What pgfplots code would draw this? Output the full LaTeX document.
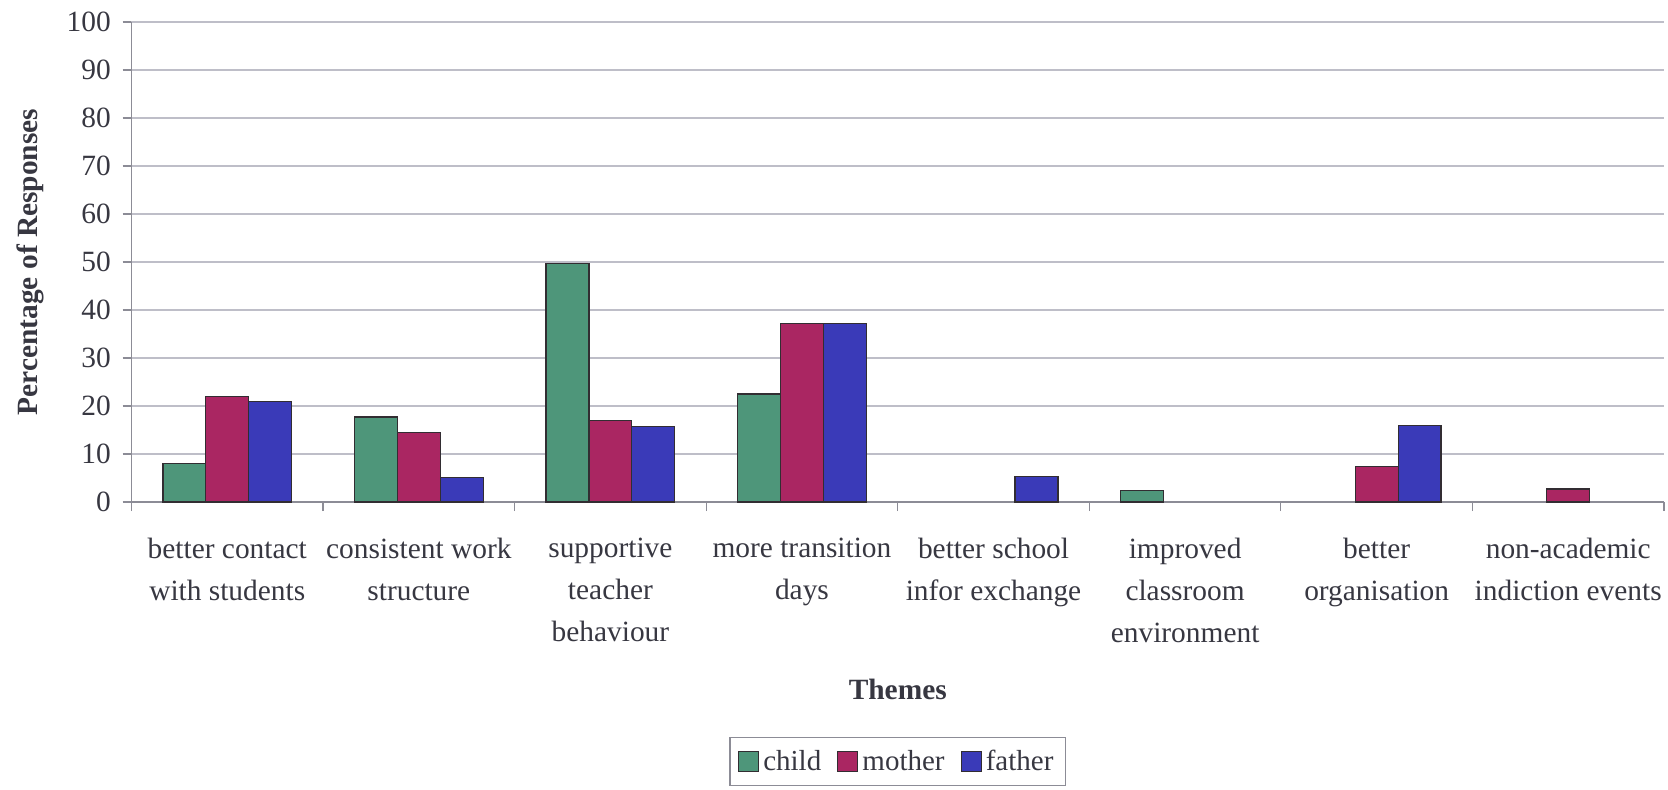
\documentclass[border=0pt]{standalone}
\usepackage{fontspec}
\setmainfont{Liberation Serif}
\usepackage{pgfplots}
\pgfplotsset{compat=1.18}
\definecolor{cchild}{RGB}{78,150,122}
\definecolor{cmother}{RGB}{170,38,98}
\definecolor{cfather}{RGB}{58,58,184}
\definecolor{txt}{RGB}{55,55,65}
\definecolor{gridc}{RGB}{190,190,200}
\definecolor{axc}{RGB}{140,140,150}
\definecolor{barline}{RGB}{50,45,50}
\begin{document}
\begin{tikzpicture}
\path[use as bounding box] (-65.75pt,-143.5pt) rectangle (768.25pt,251pt);
\begin{axis}[
  at={(0,0)}, anchor=south west,
  scale only axis, width=766.25pt, height=240pt,
  xmin=-0.5, xmax=7.5, ymin=0, ymax=100,
  axis x line*=bottom, axis y line*=left,
  axis line style={axc, line width=0.6pt},
  tick align=outside,
  tick style={axc, line width=0.6pt},
  major tick length=4.5pt,
  ytick={0,10,...,100},
  ymajorgrids, grid style={gridc, line width=0.6pt},
  xtick={-0.5,0.5,...,7.5},
  xticklabels={{},{},{},{},{},{},{},{},{}},
  extra x ticks={0,1,2,3,4,5,6,7},
  extra x tick labels={{better contact\\with students},{consistent work\\structure},{supportive\\teacher\\behaviour},{more transition\\days},{better school\\infor exchange},{improved\\classroom\\environment},{better\\organisation},{non-academic\\indiction events}},
  extra x tick style={major tick length=0pt, grid=none, tick style={draw=none},
     xticklabel style={align=center, anchor=north, yshift=-14.6pt, text=txt, font=\fontsize{14.7}{21}\selectfont}},
  yticklabel style={text=txt, font=\fontsize{14.7}{17}\selectfont, xshift=-2.3pt},
  /pgf/number format/assume math mode=true,
  xlabel={Themes},
  xlabel style={at={(axis description cs:0.5,-0.3896)}, anchor=center, text=txt, font=\bfseries\fontsize{14.7}{17}\selectfont},
  ylabel={Percentage of Responses},
  ylabel style={at={(axis description cs:-0.06623,0.5)}, anchor=center, rotate=0, text=txt, font=\bfseries\fontsize{14.7}{17}\selectfont},
  legend columns=3,
  legend style={at={(axis description cs:0.5,-0.5406)}, anchor=center, draw=axc, line width=0.6pt, fill=none,
     font=\fontsize{14.5}{16}\selectfont, text=txt, inner ysep=4pt, inner xsep=4pt,
     /tikz/every even column/.append style={column sep=6pt}},
  legend image code/.code={\draw[#1, line width=0.6pt] (0pt,-5pt) rectangle (10pt,5pt);},
]
\addplot[ybar, bar width=0.224, bar shift=-0.224, fill=cchild, draw=barline, line width=0.6pt]
  coordinates {(0,8.1) (1,17.7) (2,49.7) (3,22.5) (5,2.4)};
\addplot[ybar, bar width=0.224, bar shift=0, fill=cmother, draw=barline, line width=0.6pt]
  coordinates {(0,22.0) (1,14.5) (2,17.0) (3,37.2) (6,7.4) (7,2.7)};
\addplot[ybar, bar width=0.224, bar shift=0.224, fill=cfather, draw=barline, line width=0.6pt]
  coordinates {(0,21.0) (1,5.1) (2,15.8) (3,37.2) (4,5.3) (6,16.0)};
\legend{child,mother,father}
\end{axis}
\end{tikzpicture}
\end{document}
